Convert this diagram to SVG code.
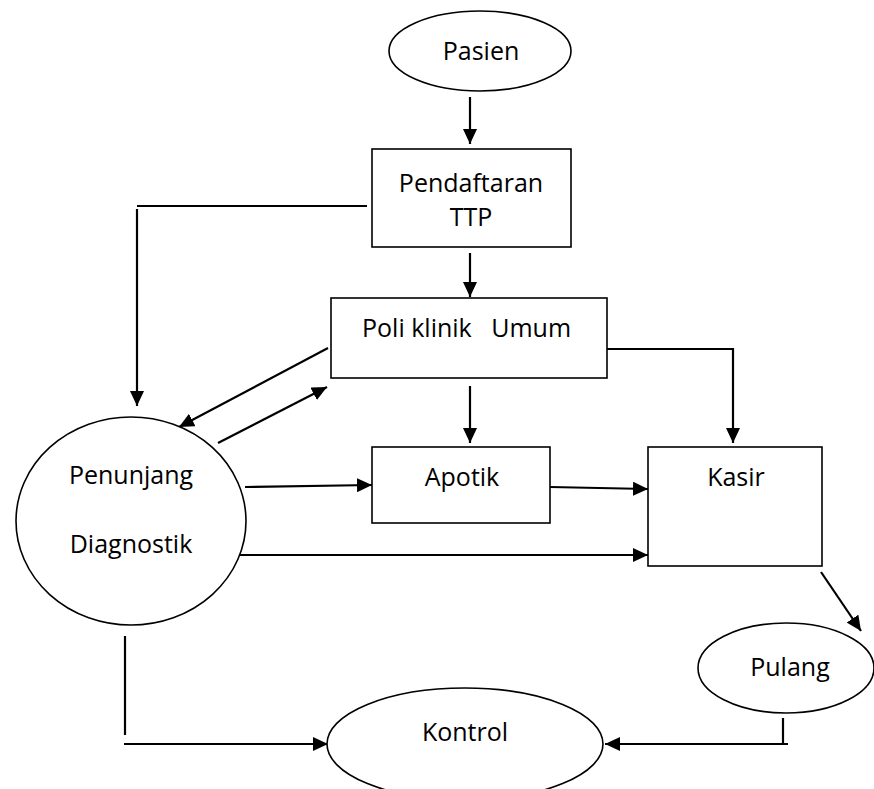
<svg xmlns="http://www.w3.org/2000/svg" width="874" height="789" viewBox="0 0 874 789">
<style>
.shape{fill:#fff;stroke:#000;stroke-width:1.6}
.lbl{font-family:"Open Sans","Liberation Sans",sans-serif;font-size:25px;fill:#000;text-anchor:middle}
.ln{fill:none;stroke:#000;stroke-width:2.2}
.arr{fill:none;stroke:#000;stroke-width:2.2;marker-end:url(#ah)}
</style>
<defs>
<marker id="ah" markerUnits="userSpaceOnUse" markerWidth="16" markerHeight="14" refX="15" refY="7" orient="auto">
<path d="M0,0 L15,7 L0,14 z" fill="#000"/>
</marker>
</defs>
<rect width="874" height="789" fill="#fff"/>
<g id="connectors">
<line class="arr" x1="470" y1="97" x2="470" y2="144"/>
<line class="arr" x1="470" y1="253" x2="470" y2="297"/>
<polyline class="ln" points="367,206 137,206"/>
<line class="arr" x1="137" y1="209" x2="137" y2="406"/>
<line class="arr" x1="328" y1="348" x2="179" y2="427"/>
<line class="arr" x1="218" y1="443" x2="327" y2="387"/>
<line class="arr" x1="470" y1="386" x2="470" y2="443"/>
<polyline class="arr" points="603,349 733,349 733,443"/>
<line class="arr" x1="245" y1="487" x2="372" y2="485"/>
<line class="arr" x1="550" y1="487" x2="648" y2="489"/>
<line class="arr" x1="240" y1="555" x2="648" y2="555"/>
<line class="arr" x1="821" y1="572" x2="861" y2="631"/>
<line class="ln" x1="125" y1="636" x2="125" y2="735"/>
<line class="arr" x1="124" y1="744" x2="328" y2="744"/>
<line class="ln" x1="783" y1="718" x2="783" y2="744"/>
<line class="arr" x1="788" y1="744" x2="605" y2="744"/>
</g>
<g id="pasien">
<ellipse class="shape" cx="480" cy="51" rx="91" ry="40"/>
<text class="lbl" x="481" y="60">Pasien</text>
</g>
<g id="pendaftaran">
<rect class="shape" x="372" y="149" width="199" height="98"/>
<text class="lbl" x="471" y="192">Pendaftaran</text>
<text class="lbl" x="471" y="226">TTP</text>
</g>
<g id="poliklinik">
<rect class="shape" x="331" y="298" width="276" height="80"/>
<text class="lbl" x="362" y="337" style="text-anchor:start;white-space:pre" xml:space="preserve">Poli klinik   Umum</text>
</g>
<g id="penunjang">
<ellipse class="shape" cx="131" cy="521" rx="115" ry="104"/>
<text class="lbl" x="131" y="484">Penunjang</text>
<text class="lbl" x="131" y="553">Diagnostik</text>
</g>
<g id="apotik">
<rect class="shape" x="372" y="447" width="178" height="76"/>
<text class="lbl" x="462" y="486">Apotik</text>
</g>
<g id="kasir">
<rect class="shape" x="648" y="447" width="174" height="119"/>
<text class="lbl" x="736" y="486">Kasir</text>
</g>
<g id="pulang">
<ellipse class="shape" cx="786" cy="668" rx="88" ry="45"/>
<text class="lbl" x="790" y="676">Pulang</text>
</g>
<g id="kontrol">
<ellipse class="shape" cx="465" cy="744" rx="138" ry="56"/>
<text class="lbl" x="465" y="741">Kontrol</text>
</g>
</svg>
